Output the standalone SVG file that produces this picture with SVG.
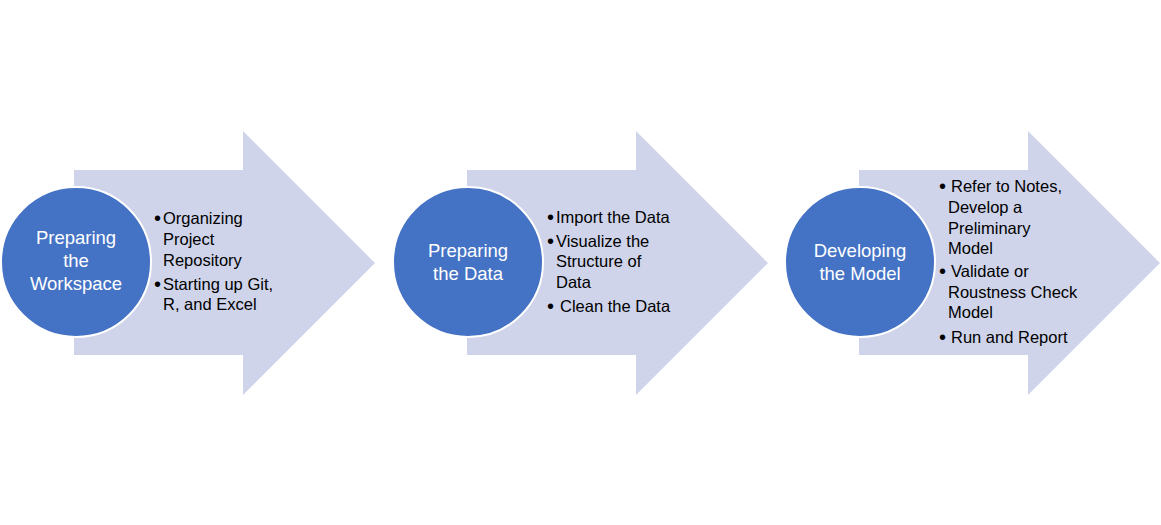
<svg xmlns="http://www.w3.org/2000/svg" width="1161" height="525" viewBox="0 0 1161 525">
<style>
.arrow{fill:#CFD4EA;}
.circ{fill:#4472C4;stroke:#FFFFFF;stroke-width:2;}
.ct{font-family:"Liberation Sans",Arial,sans-serif;font-size:18.5px;fill:#FFFFFF;text-anchor:middle;}
.bt{font-family:"Liberation Sans",Arial,sans-serif;font-size:16.5px;fill:#000000;}
.bl{font-size:20px;}
</style>
<rect width="1161" height="525" fill="#FFFFFF"/>
<g id="connectors"></g>
<g id="step1">
<path class="arrow" d="M74,170 H243 V131 L375,263 L243,395 V355 H74 Z"/>
<circle class="circ" cx="76" cy="262" r="75"/>
<text class="ct"><tspan x="76" y="244">Preparing</tspan><tspan x="76" y="267">the</tspan><tspan x="76" y="290">Workspace</tspan></text>
<text class="bt"><tspan class="bl" x="154" y="225">•</tspan><tspan x="163" y="224">Organizing</tspan><tspan x="163" y="245">Project</tspan><tspan x="163" y="266">Repository</tspan><tspan class="bl" x="154" y="291">•</tspan><tspan x="163" y="290">Starting up Git,</tspan><tspan x="163" y="310">R, and Excel</tspan></text>
</g>
<g id="step2">
<path class="arrow" d="M467,170 H636 V131 L768,263 L636,395 V355 H467 Z"/>
<circle class="circ" cx="468" cy="262" r="75"/>
<text class="ct"><tspan x="468" y="257">Preparing</tspan><tspan x="468" y="280">the Data</tspan></text>
<text class="bt"><tspan class="bl" x="547" y="224">•</tspan><tspan x="556" y="223">Import the Data</tspan><tspan class="bl" x="547" y="248">•</tspan><tspan x="556" y="247">Visualize the</tspan><tspan x="556" y="267">Structure of</tspan><tspan x="556" y="288">Data</tspan><tspan class="bl" x="547" y="313">•</tspan><tspan x="560" y="312">Clean the Data</tspan></text>
</g>
<g id="step3">
<path class="arrow" d="M859,170 H1028 V131 L1160,263 L1028,395 V355 H859 Z"/>
<circle class="circ" cx="860" cy="262" r="75"/>
<text class="ct"><tspan x="860" y="257">Developing</tspan><tspan x="860" y="280">the Model</tspan></text>
<text class="bt"><tspan class="bl" x="939" y="193">•</tspan><tspan x="951" y="192">Refer to Notes,</tspan><tspan x="948" y="213">Develop a</tspan><tspan x="948" y="234">Preliminary</tspan><tspan x="948" y="254">Model</tspan><tspan class="bl" x="939" y="278">•</tspan><tspan x="951" y="277">Validate or</tspan><tspan x="948" y="298">Roustness Check</tspan><tspan x="948" y="318">Model</tspan><tspan class="bl" x="939" y="344">•</tspan><tspan x="951" y="343">Run and Report</tspan></text>
</g>
</svg>
